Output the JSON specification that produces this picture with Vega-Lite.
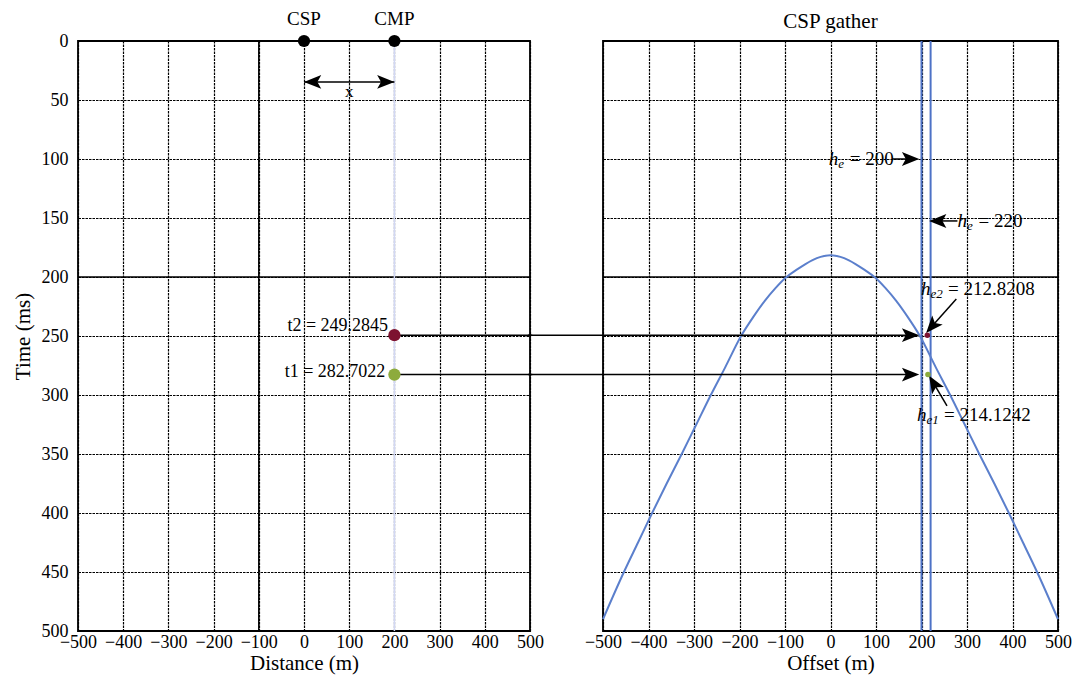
{
  "$schema": "https://vega.github.io/schema/vega-lite/v6.json",
  "padding": {"left": 11, "top": 8, "right": 10, "bottom": 2},
  "bounds": "flush",
  "spacing": 73,
  "config": {
    "font": "Liberation Serif",
    "view": {"stroke": "black", "strokeWidth": 1.8},
    "axis": {
      "grid": true, "gridColor": "black", "gridDash": [2.5, 1], "gridWidth": 1.2, "gridOpacity": 1,
      "domain": false, "ticks": false,
      "labelFont": "Liberation Serif", "labelFontSize": 18, "labelColor": "black",
      "titleFont": "Liberation Serif", "titleFontSize": 21, "titleFontWeight": "normal", "titleColor": "black",
      "labelFlush": false, "labelOverlap": false
    },
    "title": {"font": "Liberation Serif", "fontSize": 21, "fontWeight": "normal", "color": "black"},
    "text": {"font": "Liberation Serif", "color": "black"}
  },
  "hconcat": [
    {
      "width": 452,
      "height": 590,
      "encoding": {
        "x": {"field": "x", "type": "quantitative",
              "scale": {"domain": [-500, 500], "nice": false, "zero": false},
              "axis": {"values": [-500, -400, -300, -200, -100, 0, 100, 200, 300, 400, 500], "title": "Distance (m)", "labelPadding": 2, "titlePadding": 1}},
        "y": {"field": "t", "type": "quantitative",
              "scale": {"domain": [0, 500], "reverse": true, "nice": false, "zero": false},
              "axis": {"values": [0, 50, 100, 150, 200, 250, 300, 350, 400, 450, 500], "title": "Time (ms)", "labelPadding": 10, "titlePadding": 8}}
      },
      "layer": [
        {
          "data": {"values": [{"x": -100, "t": 0, "t2": 500}]},
          "mark": {"type": "rule", "color": "black", "strokeWidth": 1.5},
          "encoding": {"y2": {"field": "t2"}}
        },
        {
          "data": {"values": [{"x": -500, "x2": 500, "t": 200}]},
          "mark": {"type": "rule", "color": "black", "strokeWidth": 1.5},
          "encoding": {"x2": {"field": "x2"}}
        },
        {
          "data": {"values": [{"x": 200, "t": 0, "t2": 500}]},
          "mark": {"type": "rule", "color": "#d2d8f4", "strokeWidth": 1.5},
          "encoding": {"y2": {"field": "t2"}}
        },
        {
          "data": {"values": [{"x": 200, "x2": 505, "t": 249.2845}, {"x": 200, "x2": 505, "t": 282.7022}]},
          "mark": {"type": "rule", "color": "black", "strokeWidth": 1.5},
          "encoding": {"x2": {"field": "x2"}}
        },
        {
          "data": {"values": [{"x": 0, "x2": 200, "t": 34.7}]},
          "mark": {"type": "rule", "color": "black", "strokeWidth": 1.5},
          "encoding": {"x2": {"field": "x2"}}
        },
        {
          "data": {"values": [{"x": 181, "t": 34.7}]},
          "mark": {"type": "point", "shape": "M -1 -0.8 L 1 0 L -1 0.8 L -0.55 0 Z", "filled": true, "color": "black", "opacity": 1, "size": 300, "angle": 0}
        },
        {
          "data": {"values": [{"x": 19, "t": 34.7}]},
          "mark": {"type": "point", "shape": "M -1 -0.8 L 1 0 L -1 0.8 L -0.55 0 Z", "filled": true, "color": "black", "opacity": 1, "size": 300, "angle": 180}
        },
        {
          "data": {"values": [{"x": 100, "t": 43, "label": "x"}]},
          "mark": {"type": "text", "fontSize": 17, "baseline": "middle", "align": "center"},
          "encoding": {"text": {"field": "label"}}
        },
        {
          "data": {"values": [{"x": 0, "t": 0, "name": "CSP"}, {"x": 200, "t": 0, "name": "CMP"}]},
          "mark": {"type": "circle", "color": "black", "opacity": 1, "size": 150}
        },
        {
          "data": {"values": [{"x": 0, "t": -19, "name": "CSP"}, {"x": 200, "t": -19, "name": "CMP"}]},
          "mark": {"type": "text", "fontSize": 19, "baseline": "middle", "align": "center"},
          "encoding": {"text": {"field": "name"}}
        },
        {
          "data": {"values": [{"x": 200, "t": 249.2845, "c": "t2"}, {"x": 200, "t": 282.7022, "c": "t1"}]},
          "mark": {"type": "circle", "opacity": 1, "size": 150},
          "encoding": {"color": {"field": "c", "type": "nominal", "scale": {"domain": ["t2", "t1"], "range": ["#7d1230", "#8dab3d"]}, "legend": null}}
        },
        {
          "data": {"values": [{"x": 186, "t": 241.5, "label": "t2 = 249.2845"}, {"x": 180, "t": 280.5, "label": "t1 = 282.7022"}]},
          "mark": {"type": "text", "fontSize": 18, "baseline": "middle", "align": "right"},
          "encoding": {"text": {"field": "label"}}
        }
      ]
    },
    {
      "width": 455,
      "height": 590,
      "title": {"text": "CSP gather", "offset": 8},
      "encoding": {
        "x": {"field": "x", "type": "quantitative",
              "scale": {"domain": [-500, 500], "nice": false, "zero": false},
              "axis": {"values": [-500, -400, -300, -200, -100, 0, 100, 200, 300, 400, 500], "title": "Offset (m)", "labelPadding": 2, "titlePadding": 1}},
        "y": {"field": "t", "type": "quantitative",
              "scale": {"domain": [0, 500], "reverse": true, "nice": false, "zero": false},
              "axis": {"values": [0, 50, 100, 150, 200, 250, 300, 350, 400, 450, 500], "title": null, "labels": false}}
      },
      "layer": [
        {
          "data": {"values": [{"x": -500, "x2": 500, "t": 200}]},
          "mark": {"type": "rule", "color": "black", "strokeWidth": 1.5},
          "encoding": {"x2": {"field": "x2"}}
        },
        {
          "data": {"values": [{"x": 200, "t": 0, "t2": 500}, {"x": 220, "t": 0, "t2": 500}]},
          "mark": {"type": "rule", "color": "#4d72c6", "strokeWidth": 2},
          "encoding": {"y2": {"field": "t2"}}
        },
        {
          "data": {"values": [
            {"x": -500, "t": 490}, {"x": -454, "t": 450}, {"x": -423, "t": 425}, {"x": -392, "t": 400},
            {"x": -360, "t": 375}, {"x": -327, "t": 350}, {"x": -295, "t": 325}, {"x": -263, "t": 300},
            {"x": -232, "t": 277}, {"x": -195, "t": 249}, {"x": -170, "t": 234}, {"x": -144, "t": 220},
            {"x": -120, "t": 209}, {"x": -100, "t": 201}, {"x": -75, "t": 194}, {"x": -55, "t": 189},
            {"x": -30, "t": 184}, {"x": 0, "t": 181.5}, {"x": 30, "t": 184}, {"x": 55, "t": 189},
            {"x": 75, "t": 194}, {"x": 100, "t": 201}, {"x": 120, "t": 209}, {"x": 144, "t": 220},
            {"x": 170, "t": 234}, {"x": 195, "t": 249}, {"x": 232, "t": 277}, {"x": 263, "t": 300},
            {"x": 295, "t": 325}, {"x": 327, "t": 350}, {"x": 360, "t": 375}, {"x": 392, "t": 400},
            {"x": 423, "t": 425}, {"x": 454, "t": 450}, {"x": 500, "t": 490}
          ]},
          "mark": {"type": "line", "color": "#5b7fcc", "strokeWidth": 2, "interpolate": "monotone"}
        },
        {
          "data": {"values": [{"x": -665, "x2": 176, "t": 249.2845}, {"x": -665, "x2": 176, "t": 282.7022}, {"x": 135, "x2": 176, "t": 100}, {"x": 236, "x2": 279, "t": 152.5}]},
          "mark": {"type": "rule", "color": "black", "strokeWidth": 1.5},
          "encoding": {"x2": {"field": "x2"}}
        },
        {
          "data": {"values": [{"x": 276.5, "t": 218.6, "x2": 222.6, "t2": 242}, {"x": 256, "t": 309.3, "x2": 226.5, "t2": 290}]},
          "mark": {"type": "rule", "color": "black", "strokeWidth": 1.5},
          "encoding": {"x2": {"field": "x2"}, "y2": {"field": "t2"}}
        },
        {
          "data": {"values": [{"x": 176, "t": 249.2845}, {"x": 176, "t": 282.7022}, {"x": 176, "t": 100}]},
          "mark": {"type": "point", "shape": "M -1 -0.8 L 1 0 L -1 0.8 L -0.55 0 Z", "filled": true, "color": "black", "opacity": 1, "size": 300, "angle": 0}
        },
        {
          "data": {"values": [{"x": 235.6, "t": 152.5}]},
          "mark": {"type": "point", "shape": "M -1 -0.8 L 1 0 L -1 0.8 L -0.55 0 Z", "filled": true, "color": "black", "opacity": 1, "size": 300, "angle": 180}
        },
        {
          "data": {"values": [{"x": 222.6, "t": 242}]},
          "mark": {"type": "point", "shape": "M -1 -0.8 L 1 0 L -1 0.8 L -0.55 0 Z", "filled": true, "color": "black", "opacity": 1, "size": 300, "angle": 131}
        },
        {
          "data": {"values": [{"x": 226.5, "t": 290}]},
          "mark": {"type": "point", "shape": "M -1 -0.8 L 1 0 L -1 0.8 L -0.55 0 Z", "filled": true, "color": "black", "opacity": 1, "size": 300, "angle": 239}
        },
        {
          "data": {"values": [{"x": 212.8208, "t": 249.2845, "c": "t2"}, {"x": 214.1242, "t": 282.7022, "c": "t1"}]},
          "mark": {"type": "circle", "opacity": 1, "size": 30},
          "encoding": {"color": {"field": "c", "type": "nominal", "scale": {"domain": ["t2", "t1"], "range": ["#7d1230", "#8dab3d"]}, "legend": null}}
        },
        {
          "data": {"values": [{"x": -4, "t": 100, "h": "h"}, {"x": 279, "t": 152.5, "h": "h"}, {"x": 199, "t": 210, "h": "h"}, {"x": 190, "t": 317, "h": "h"}]},
          "mark": {"type": "text", "fontSize": 19, "fontStyle": "italic", "baseline": "middle", "align": "left"},
          "encoding": {"text": {"field": "h"}}
        },
        {
          "data": {"values": [{"x": -4, "t": 100, "sub": "e", "rest": "= 200"}, {"x": 279, "t": 152.5, "sub": "e", "rest": "= 220"}]},
          "layer": [
            {"mark": {"type": "text", "fontSize": 13, "fontStyle": "italic", "baseline": "middle", "align": "left", "dx": 9.5, "dy": 5}, "encoding": {"text": {"field": "sub"}}},
            {"mark": {"type": "text", "fontSize": 19, "baseline": "middle", "align": "left", "dx": 21}, "encoding": {"text": {"field": "rest"}}}
          ]
        },
        {
          "data": {"values": [{"x": 199, "t": 210, "sub": "e2", "rest": "= 212.8208"}, {"x": 190, "t": 317, "sub": "e1", "rest": "= 214.1242"}]},
          "layer": [
            {"mark": {"type": "text", "fontSize": 13, "fontStyle": "italic", "baseline": "middle", "align": "left", "dx": 9.5, "dy": 5}, "encoding": {"text": {"field": "sub"}}},
            {"mark": {"type": "text", "fontSize": 19, "baseline": "middle", "align": "left", "dx": 27}, "encoding": {"text": {"field": "rest"}}}
          ]
        }
      ]
    }
  ]
}
